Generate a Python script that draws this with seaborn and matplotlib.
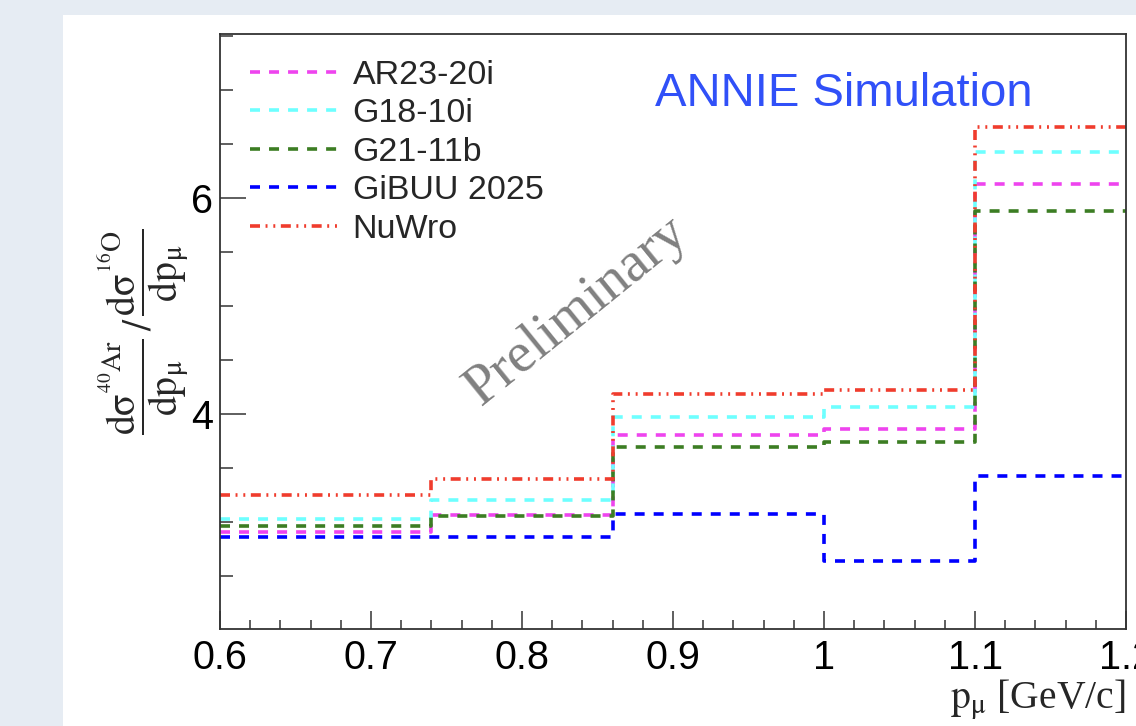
import numpy as np
import pandas as pd
import matplotlib
matplotlib.use("Agg")
import matplotlib.pyplot as plt
import seaborn as sns
from matplotlib.lines import Line2D
from matplotlib.patches import Rectangle
from matplotlib.ticker import MultipleLocator, FixedLocator, FuncFormatter

# ---- data ----
bin_edges = [0.6, 0.74, 0.86, 1.0, 1.1, 1.2]
models = ["AR23-20i", "G18-10i", "G21-11b", "GiBUU 2025", "NuWro"]
ar23 = [2.91, 3.065, 3.81, 3.865, 6.13]
g18 = [3.03, 3.20, 3.975, 4.068, 6.425]
g21 = [2.965, 3.06, 3.70, 3.745, 5.885]
gibuu = [2.86, 2.865, 3.075, 2.64, 3.43]
nuwro = [3.248, 3.40, 4.185, 4.222, 6.655]
y_tick_labels = [4, 6]

series = [ar23, g18, g21, gibuu, nuwro]
colors = ["#EE44EE", "#6EFFFF", "#3C7D23", "#0000FF", "#F03C2D"]
dashed = (0, (7.2, 6.5))
dashdotdot = (0, (7.2, 4.0, 1.4, 4.2, 1.4, 4.0))
styles = [dashed, dashed, dashed, dashed, dashdotdot]

sns.set_theme(style="ticks")
plt.rcParams["font.family"] = ["Liberation Sans", "DejaVu Sans"]
plt.rcParams["mathtext.fontset"] = "stix"
plt.rcParams["lines.scale_dashes"] = False

W, H = 1136, 726
fig = plt.figure(figsize=(W / 100, H / 100), dpi=100, facecolor="#E6ECF3")
bg = Rectangle((63 / W, 0), 1, 1 - 15 / H, transform=fig.transFigure,
               facecolor="white", edgecolor="none", zorder=-10)
fig.patches.append(bg)
ax = fig.add_axes([220 / W, 1 - 629 / H, 906 / W, 595 / H])
ax.set_zorder(1)
ax.set_facecolor("white")

centers = [(a + b) / 2 for a, b in zip(bin_edges[:-1], bin_edges[1:])]
for name, vals, col, ls in zip(models, series, colors, styles):
    df = pd.DataFrame({"p": centers, "ratio": vals})
    sns.histplot(data=df, x="p", weights="ratio", bins=bin_edges, element="step",
                 fill=False, color=col, linewidth=2.6, linestyle=ls, ax=ax)

ax.set_xlim(0.6, 1.2)
ax.set_ylim(2.01, 7.52)
ax.xaxis.set_major_locator(MultipleLocator(0.1))
ax.xaxis.set_minor_locator(MultipleLocator(0.02))
ax.xaxis.set_major_formatter(FuncFormatter(lambda v, p: "%g" % round(v, 3)))
ax.yaxis.set_major_locator(FixedLocator(y_tick_labels))
ax.yaxis.set_minor_locator(MultipleLocator(0.5))
ax.yaxis.set_major_formatter(FuncFormatter(lambda v, p: "%g" % v))

for sp in ax.spines.values():
    sp.set_visible(True)
    sp.set_linewidth(1.3)
    sp.set_color("#333333")

ax.tick_params(axis="both", which="both", direction="in", color="#333333", width=1.1,
               top=False, right=False, labelsize=28.5, labelcolor="black")
ax.tick_params(axis="x", which="major", length=13, pad=7)
ax.tick_params(axis="x", which="minor", length=6.5)
ax.tick_params(axis="y", which="major", length=18.7, pad=5)
ax.tick_params(axis="y", which="minor", length=9.4)

ax.set_xlabel(r"$\mathrm{p}_{\mathrm{\mu}}$ [GeV/c]", fontfamily="Liberation Serif",
              fontsize=28.5, loc="right")
ax.xaxis.set_label_coords(1.0, -0.083)
ax.set_ylabel(r"$\dfrac{\mathrm{d\sigma}^{{}^{40}\mathrm{Ar}}}{\mathrm{dp}_{\mathrm{\mu}}}\,/\,"
              r"\dfrac{\mathrm{d\sigma}^{{}^{16}\mathrm{O}}}{\mathrm{dp}_{\mathrm{\mu}}}$",
              fontsize=28.5)
ax.yaxis.set_label_coords(-0.032, 0.5)

handles = [Line2D([], [], color=c, lw=2.6, linestyle=s) for c, s in zip(colors, styles)]
ax.legend(handles, models, loc="upper left", bbox_to_anchor=(0.033, 0.957),
          frameon=False, fontsize=24.5, handlelength=2.7, handletextpad=0.32,
          labelspacing=0.22, borderpad=0, borderaxespad=0)

ax.text(0.480, 0.879, "ANNIE Simulation", transform=ax.transAxes, color="#3050F8",
        fontsize=34, ha="left", va="baseline")
ax.text(0.394, 0.535, "Preliminary", transform=ax.transAxes, color="#808080",
        fontsize=41, fontfamily="Liberation Serif", rotation=39,
        rotation_mode="anchor", ha="center", va="center")

fig.savefig("out.png", dpi=100, facecolor=fig.get_facecolor())
